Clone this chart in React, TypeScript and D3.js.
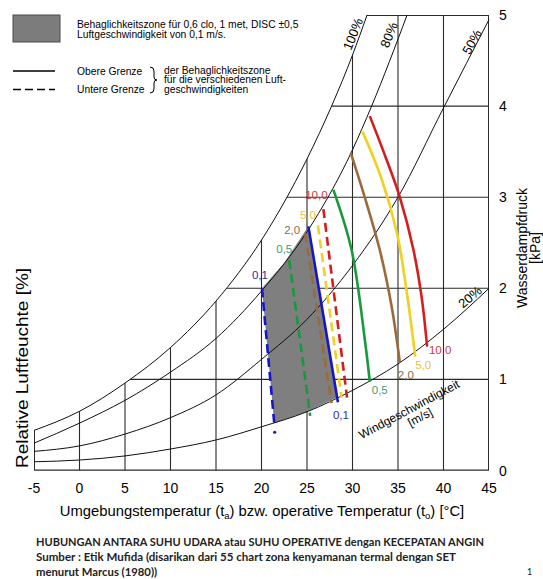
import React from "react";
import * as d3 from "d3";

type Pt = [number, number];

// axes
const tempTicks = [-5, 0, 5, 10, 15, 20, 25, 30, 35, 40, 45];
const pressTicks = [0, 1, 2, 3, 4, 5];

// relative humidity curves, [temperature °C, vapour pressure kPa]
const rh100: Pt[] = [[-5, 0.44], [0, 0.65], [5, 0.96], [10, 1.35], [15, 1.86], [20, 2.53], [25, 3.42], [27.7, 4.0], [30, 4.56], [31.6, 5.0]];
const rh80: Pt[] = [[-5, 0.3], [0, 0.52], [5, 0.77], [10, 1.08], [15, 1.45], [20, 1.97], [25, 2.62], [30, 3.52], [32.1, 4.0], [36, 5.0]];
const rh50: Pt[] = [[-5, 0.21], [0, 0.27], [5, 0.4], [10, 0.58], [15, 0.83], [20, 1.22], [25, 1.66], [30, 2.25], [35, 3.0], [40, 3.98], [45, 4.95]];
const rh20: Pt[] = [[-5, 0.096], [0, 0.115], [5, 0.16], [10, 0.236], [15, 0.335], [20, 0.48], [25, 0.645], [30, 0.88], [35, 1.17], [40, 1.55], [45, 2.0]];
const rhLabels = ["100%", "80%", "50%", "20%"];

// comfort zone for 0,1 m/s
const comfortZone: Pt[] = [[20.05, 2.0], [22.5, 2.28], [25.15, 2.68], [28.25, 0.8], [25, 0.645], [21.4, 0.52]];

// air speeds, lower (dashed) and upper (solid) limits
const speeds = ["0,1", "0,5", "2,0", "5,0", "10,0"];
const lowerLimits: Pt[][] = [
  [[20.05, 2.0], [21.4, 0.52]],
  [[23.05, 2.31], [25.35, 0.6]],
  [[24.8, 2.6], [27.7, 0.74]],
  [[26.2, 2.69], [28.8, 0.8]],
  [[26.8, 2.87], [29.4, 0.8]],
];
const upperLimits: Pt[][] = [
  [[25.15, 2.68], [28.4, 0.75]],
  [[27.9, 3.08], [29.9, 2.42], [31.4, 1.4], [31.9, 0.975]],
  [[29.8, 3.49], [31.5, 2.95], [33.0, 2.42], [34.3, 1.8], [35.2, 1.19]],
  [[31.1, 3.72], [33.2, 3.2], [34.9, 2.6], [35.9, 2.0], [36.9, 1.25]],
  [[31.9, 3.89], [33.6, 3.45], [35.2, 3.0], [36.7, 2.42], [37.6, 1.9], [38.2, 1.36]],
];
const bluePoint: Pt = [21.45, 0.42];

const lineColors = ["#1616c4", "#17993c", "#9a6a3c", "#f0d020", "#d21e1e"];
const textColors = ["#2e2ea0", "#3d9b74", "#8a6d4a", "#e5c33c", "#c23c3c"];
// label offsets from the line ends (px)
const topOffsets = [[-2, -13], [-5, -11], [-13, -4], [-10, -10], [-7, -14]];
const bottomOffsets = [[3, 13], [10, 8], [6, 13], [8, 8], [13, 3]];

const caption = [
  "HUBUNGAN ANTARA SUHU UDARA atau SUHU OPERATIVE dengan KECEPATAN ANGIN",
  "Sumber : Etik Mufida (disarikan dari 55 chart zona kenyamanan termal dengan SET",
  "menurut Marcus (1980))",
];
const captionWidths = [448, 420, 0];

const FONT = "'Liberation Sans', Arial, sans-serif";

export default function App() {
  const x = d3.scaleLinear().domain([-5, 45]).range([34, 489]);
  const y = d3.scaleLinear().domain([0, 5]).range([470.5, 15]);

  const rhLine = d3.line<Pt>().x((d) => x(d[0])).y((d) => y(d[1])).curve(d3.curveMonotoneX);
  const limitLine = d3.line<Pt>().x((d) => x(d[0])).y((d) => y(d[1])).curve(d3.curveCatmullRom.alpha(0.5));
  const poly = d3.line<Pt>().x((d) => x(d[0])).y((d) => y(d[1]));

  const clip = `M${x(-5)},${y(0)}L${rhLine(rh100)!.slice(1)}L${x(45)},${y(5)}L${x(45)},${y(0)}Z`;

  const rhPos = [
    { x: 353, y: 34, a: -68 },
    { x: 389, y: 35, a: -68 },
    { x: 472, y: 42, a: -60 },
    { x: 470, y: 297, a: -40 },
  ];

  return (
    <svg
      width={543}
      height={579}
      style={{ position: "absolute", left: 0, top: 0, background: "#fff" }}
      fontFamily={FONT}
    >
      <defs>
        <clipPath id="below-sat">
          <path d={clip} />
        </clipPath>
      </defs>

      {/* legend */}
      <rect x={13} y={15} width={47} height={27} fill="#7c7c7c" stroke="#4a4a4a" />
      <text x={77} y={27.5} fontSize={10.3}>Behaglichkeitszone für 0,6 clo, 1 met, DISC ±0,5</text>
      <text x={77} y={37.5} fontSize={10.3}>Luftgeschwindigkeit von 0,1 m/s.</text>
      <line x1={13} x2={55} y1={71} y2={71} stroke="#000" strokeWidth={1.3} />
      <line x1={13} x2={55} y1={89.5} y2={89.5} stroke="#000" strokeWidth={1.3} strokeDasharray="8,4" />
      <text x={77} y={75} fontSize={10.3}>Obere Grenze</text>
      <text x={77} y={93} fontSize={10.3}>Untere Grenze</text>
      <path d="M150,67 Q154,67 154,71 L154,77 Q154,80 157,80 Q154,80 154,83 L154,89 Q154,93 150,93" fill="none" stroke="#000" strokeWidth={1} />
      <text x={164} y={73.5} fontSize={10.3}>der Behaglichkeitszone</text>
      <text x={164} y={83} fontSize={10.3}>für die verschiedenen Luft-</text>
      <text x={164} y={92.5} fontSize={10.3}>geschwindigkeiten</text>

      {/* grid clipped below saturation curve */}
      <g clipPath="url(#below-sat)" stroke="#2a2a2a" strokeWidth={1.1}>
        {tempTicks.map((t) => (
          <line key={"v" + t} x1={x(t)} x2={x(t)} y1={y(0)} y2={y(5)} />
        ))}
        {pressTicks.map((p) => (
          <line key={"h" + p} x1={x(-5)} x2={x(45)} y1={y(p)} y2={y(p)} />
        ))}
        <rect x={x(-5)} y={y(5)} width={x(45) - x(-5)} height={y(0) - y(5)} fill="none" strokeWidth={2} />
      </g>

      {/* comfort zone */}
      <path d={poly(comfortZone) + "Z"} fill="#7f7f7f" />

      {/* RH curves */}
      {[rh100, rh80, rh50, rh20].map((c, i) => (
        <path key={i} d={rhLine(c)!} fill="none" stroke="#111" strokeWidth={1} />
      ))}
      {rhLabels.map((l, i) => (
        <text
          key={l}
          transform={`translate(${rhPos[i].x},${rhPos[i].y}) rotate(${rhPos[i].a})`}
          textAnchor="middle"
          dominantBaseline="central"
          fontSize={13}
        >
          {l}
        </text>
      ))}

      {/* limit lines */}
      {lowerLimits.map((l, i) => (
        <path key={"lo" + i} d={poly(l)!} fill="none" stroke={lineColors[i]} strokeWidth={2.6} strokeDasharray="9,5" />
      ))}
      {upperLimits.map((l, i) => (
        <path key={"up" + i} d={limitLine(l)!} fill="none" stroke={lineColors[i]} strokeWidth={2.6} />
      ))}
      <circle cx={x(bluePoint[0])} cy={y(bluePoint[1])} r={1.6} fill={lineColors[0]} />

      {speeds.map((s, i) => {
        const top = lowerLimits[i][0];
        const end = upperLimits[i][upperLimits[i].length - 1];
        return (
          <g key={"lab" + i} fontSize={11.5} fill={textColors[i]} textAnchor="middle" dominantBaseline="central">
            <text x={x(top[0]) + topOffsets[i][0]} y={y(top[1]) + topOffsets[i][1]}>{s}</text>
            <text x={x(end[0]) + bottomOffsets[i][0]} y={y(end[1]) + bottomOffsets[i][1]}>{s}</text>
          </g>
        );
      })}

      <g transform="translate(411,413) rotate(-28)" textAnchor="middle" fontSize={12}>
        <text x={0} y={0}>Windgeschwindigkeit</text>
        <text x={6} y={12}>[m/s]</text>
      </g>

      {/* axes labels */}
      {tempTicks.map((t) => (
        <text key={"tx" + t} x={x(t)} y={493} textAnchor="middle" fontSize={14}>
          {t}
        </text>
      ))}
      {pressTicks.map((p) => (
        <text key={"ty" + p} x={499} y={y(p) + 5} fontSize={14}>
          {p}
        </text>
      ))}
      <text x={262} y={516} textAnchor="middle" fontSize={14.8}>
        Umgebungstemperatur (t<tspan fontSize={9.5} dy={3}>a</tspan><tspan dy={-3}>) bzw. operative Temperatur (t</tspan>
        <tspan fontSize={9.5} dy={3}>o</tspan><tspan dy={-3}>) [°C]</tspan>
      </text>
      <text transform="translate(27.5,368) rotate(-90)" textAnchor="middle" fontSize={17} textLength={200} lengthAdjust="spacingAndGlyphs">
        Relative Luftfeuchte [%]
      </text>
      <text transform="translate(527,248) rotate(-90)" textAnchor="middle" fontSize={14}>
        Wasserdampfdruck
      </text>
      <text transform="translate(540,248) rotate(-90)" textAnchor="middle" fontSize={14}>
        [kPa]
      </text>

      {/* caption */}
      <g fontFamily="Lato, 'Open Sans', sans-serif" fontWeight="bold" fontSize={11.3} fill="#222">
        {caption.map((c, i) =>
          captionWidths[i] ? (
            <text key={i} x={36} y={546 + i * 15} textLength={captionWidths[i]} lengthAdjust="spacingAndGlyphs">
              {c}
            </text>
          ) : (
            <text key={i} x={36} y={546 + i * 15}>
              {c}
            </text>
          )
        )}
        <text x={527} y={575} fontSize={9} fontWeight="normal">1</text>
      </g>
    </svg>
  );
}
